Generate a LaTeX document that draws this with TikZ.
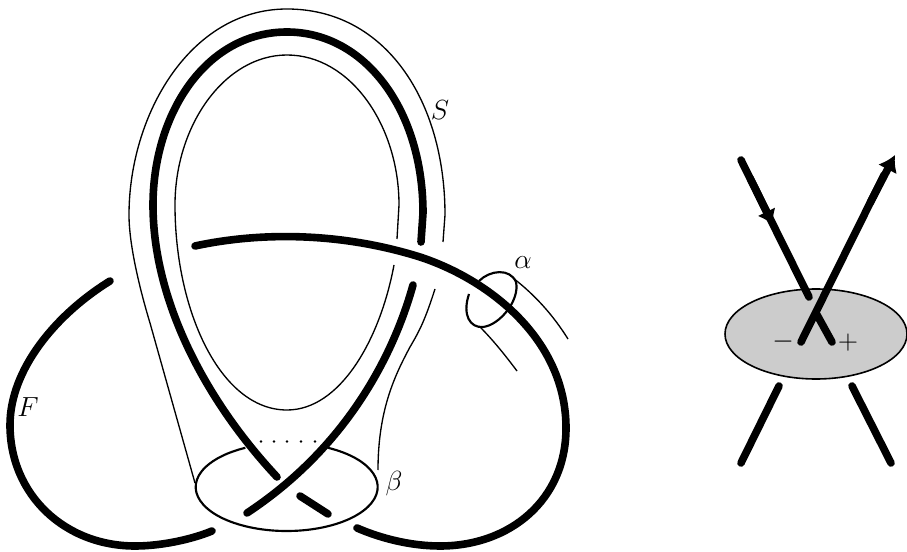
\documentclass[tikz,border=0pt]{standalone}
\usetikzlibrary{arrows.meta}
\tikzset{
  strand/.style={line width=5.7pt,line cap=round},
  sheet/.style={line width=1pt},
  loopline/.style={line width=1.6pt},
  label/.style={font=\huge},
}
\begin{document}
\begin{tikzpicture}[x=0.75pt,y=-0.75pt]
\useasboundingbox (0,0) rectangle (907,552);
% knot
\draw[strand] (195,246) .. controls (260,232) and (340,232) .. (420,257) .. controls (490,280) and (566,340) .. (566,428) .. controls (566,500) and (510,546) .. (440,546) .. controls (410,546) and (380,538) .. (357,528);
\draw[strand] (110,281) .. controls (55,315) and (10,370) .. (10,425) .. controls (10,495) and (65,546) .. (135,546) .. controls (160,546) and (190,540) .. (212,531);
\draw[strand] (421,242) -- (423,213) .. controls (423,110) and (365,32) .. (287,32) .. controls (205,32) and (153,115) .. (153,205) .. controls (153,300) and (205,400) .. (277,477);
\draw[strand] (413,285) .. controls (395,350) and (350,445) .. (247,513);
\draw[strand] (300,496) -- (328,514);
% surface
\draw[sheet] (443,242) -- (445,215) .. controls (445,100) and (385,9) .. (287,9) .. controls (190,9) and (129,115) .. (129,215) .. controls (129,245) and (140,290) .. (150,323) -- (195,483);
\draw[sheet] (397,239) -- (399,205) .. controls (399,125) and (350,55) .. (287,55) .. controls (225,55) and (175,125) .. (175,205) .. controls (175,310) and (220,410) .. (287,410) .. controls (340,410) and (380,340) .. (394,265);
\draw[sheet] (435,289) .. controls (425,320) and (420,330) .. (410,347) .. controls (395,375) and (378,410) .. (378,470);
\draw[sheet] (513,278) .. controls (535,295) and (553,315) .. (568,339);
\draw[sheet] (480,327) .. controls (493,340) and (505,355) .. (517,371);
% boundary circles
\draw[loopline] (328,447.8) arc[start angle=-63,end angle=243,x radius=91,y radius=44];
\draw[loopline] (479,281) .. controls (490,270) and (510,268) .. (516,282) .. controls (520,300) and (500,325) .. (483,327) .. controls (470,328) and (462,315) .. (469,294);
\foreach \dotx in {261,274,287,301,315}
  \fill (\dotx,441.5) circle (1.1pt);
% labels
\node[label] (labelS) at (440,110) {$S$};
\node[label] (labelF) at (28,407) {$F$};
\node[label] (labelalpha) at (523,263) {$\alpha$};
\node[label] (labelbeta) at (394,484) {$\beta$};
% crossing on the right
\draw[loopline,line width=1.2pt,fill=gray!40] (816,334) ellipse [x radius=91,y radius=45];
\draw[strand] (741,160) -- (809,297);
\draw[strand,line cap=butt,-{Latex[length=11pt,width=15pt]}] (750,178) -- (773,225);
\draw[strand] (801,342) -- (884,175);
\draw[strand,line cap=butt,-{Latex[length=12pt,width=16pt]}] (870,203) -- (895,155);
\draw[strand] (816,313) -- (832,342);
\draw[strand] (779,386) -- (741,463);
\draw[strand] (852,386) -- (891,463);
\node[label] (labelminus) at (783,342) {$-$};
\node[label] (labelplus) at (848,343) {$+$};
\end{tikzpicture}
\end{document}
